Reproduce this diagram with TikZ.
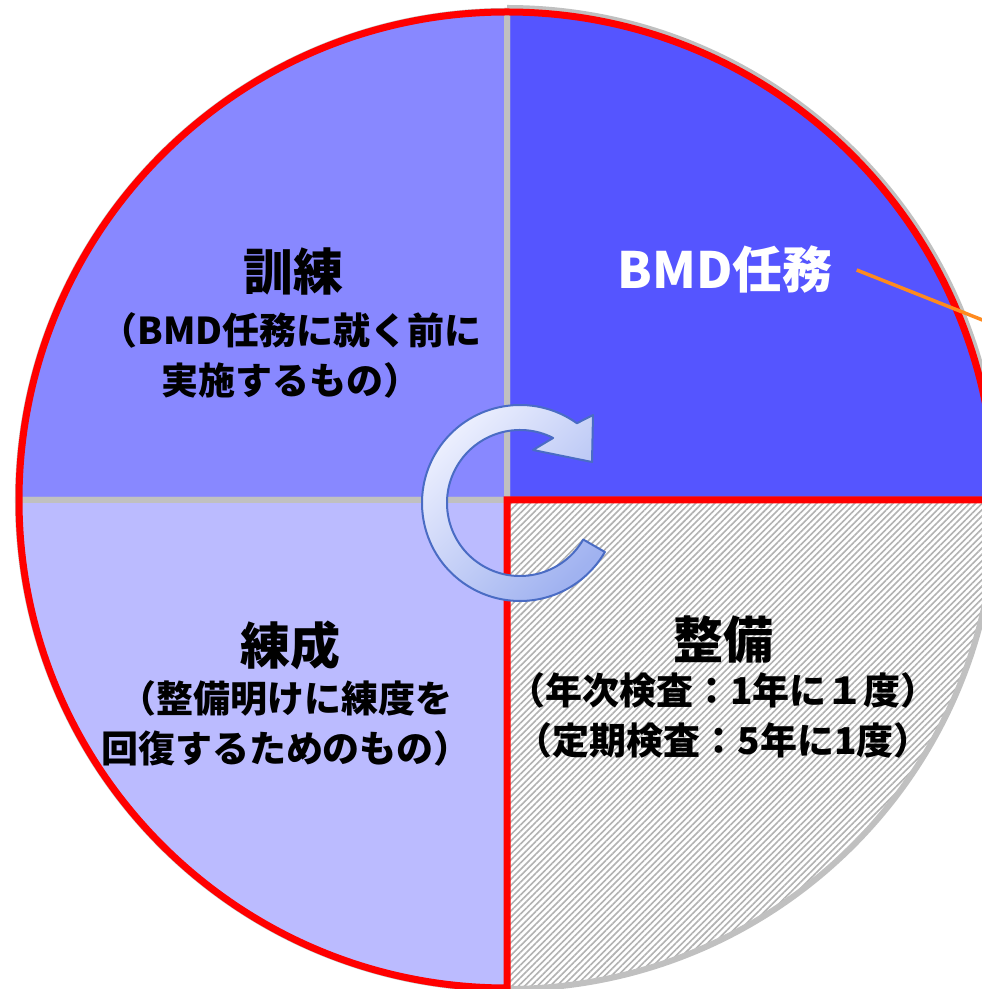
\documentclass[tikz,border=0pt]{standalone}
\usepackage{fontspec}
\newfontfamily\jpfont{Noto Sans CJK JP}
\usetikzlibrary{positioning,calc,patterns.meta}
\definecolor{ring}{HTML}{FF0000}
\definecolor{rule}{HTML}{C0C0C0}
\definecolor{qtl}{HTML}{8888FF}
\definecolor{qtr}{HTML}{5555FF}
\definecolor{qbl}{HTML}{BBBBFF}
\definecolor{lead}{HTML}{FF8A1E}
\definecolor{cyc}{HTML}{4A6CC4}
\definecolor{cyclo}{HTML}{F2F4FF}
\definecolor{cychi}{HTML}{A0B2F0}

\begin{document}
\begin{tikzpicture}[x=1pt,y=1pt,
  quad/.style={draw=rule,line width=6pt},
  ttl/.style={font=\jpfont\bfseries\fontsize{50}{56}\selectfont,inner sep=0pt},
  sub/.style={font=\jpfont\bfseries\fontsize{37}{50}\selectfont,align=center,inner sep=0pt}]
 \useasboundingbox (0,0) rectangle (982,989);
 \clip (0,0) rectangle (982,989);
 \coordinate (c) at (507,489);
 \coordinate (a) at (520,486);
 % quarters of the disc
 \draw[rule,line width=4pt] (c) ++(0:493) arc[start angle=0,end angle=90,radius=493];
 \draw[quad,fill=qtr] (c) -- ++(0:489) arc[start angle=0,end angle=90,radius=489] -- cycle;
 \draw[quad,fill=qtl] (c) -- ++(90:489) arc[start angle=90,end angle=180,radius=489] -- cycle;
 \draw[quad,fill=qbl] (c) -- ++(180:489) arc[start angle=180,end angle=270,radius=489] -- cycle;
 \draw[quad,preaction={fill=white},pattern={Lines[angle=45,distance=4.5pt,line width=1.6pt]},pattern color=gray!60]
   (c) -- ++(270:489) arc[start angle=270,end angle=360,radius=489] -- cycle;
 % red rim round three quarters
 \draw[ring,line width=7pt] (c) -- ++(0:488) arc[start angle=0,end angle=270,radius=488] -- cycle;
 % cycle arrow
 \shadedraw[draw=cyc,line width=2pt,top color=cyclo,bottom color=cychi,shading angle=45,line join=round]
   (a) ++(54.5:98) arc[start angle=54.5,end angle=330,radius=98]
   -- ($(a)+(330:73)$) arc[start angle=330,end angle=63,radius=73]
   -- (533,539) -- (592,527) -- (593,574) -- cycle;
 % labels
 \node[ttl,text=white] (bmd) at (725,719) {BMD任務};
 \node[ttl] (kunren) at (293,717) {訓練};
 \node[sub] (kunrensub) at (291,634) {（BMD任務に就く前に\\実施するもの）};
 \node[ttl] (rensei) at (290,344) {練成};
 \node[sub] (renseisub) at (286,266) {（整備明けに練度を\\回復するためのもの）};
 \node[ttl] (seibi) at (723,349) {整備};
 \node[sub] (seibisub) at (723,274) {（年次検査：1年に１度）\\（定期検査：5年に1度）};
 \coordinate (leadend) at (995,664);
 \draw[lead,line width=3.5pt] ([xshift=24pt]bmd.east) -- (leadend);
\end{tikzpicture}
\end{document}
